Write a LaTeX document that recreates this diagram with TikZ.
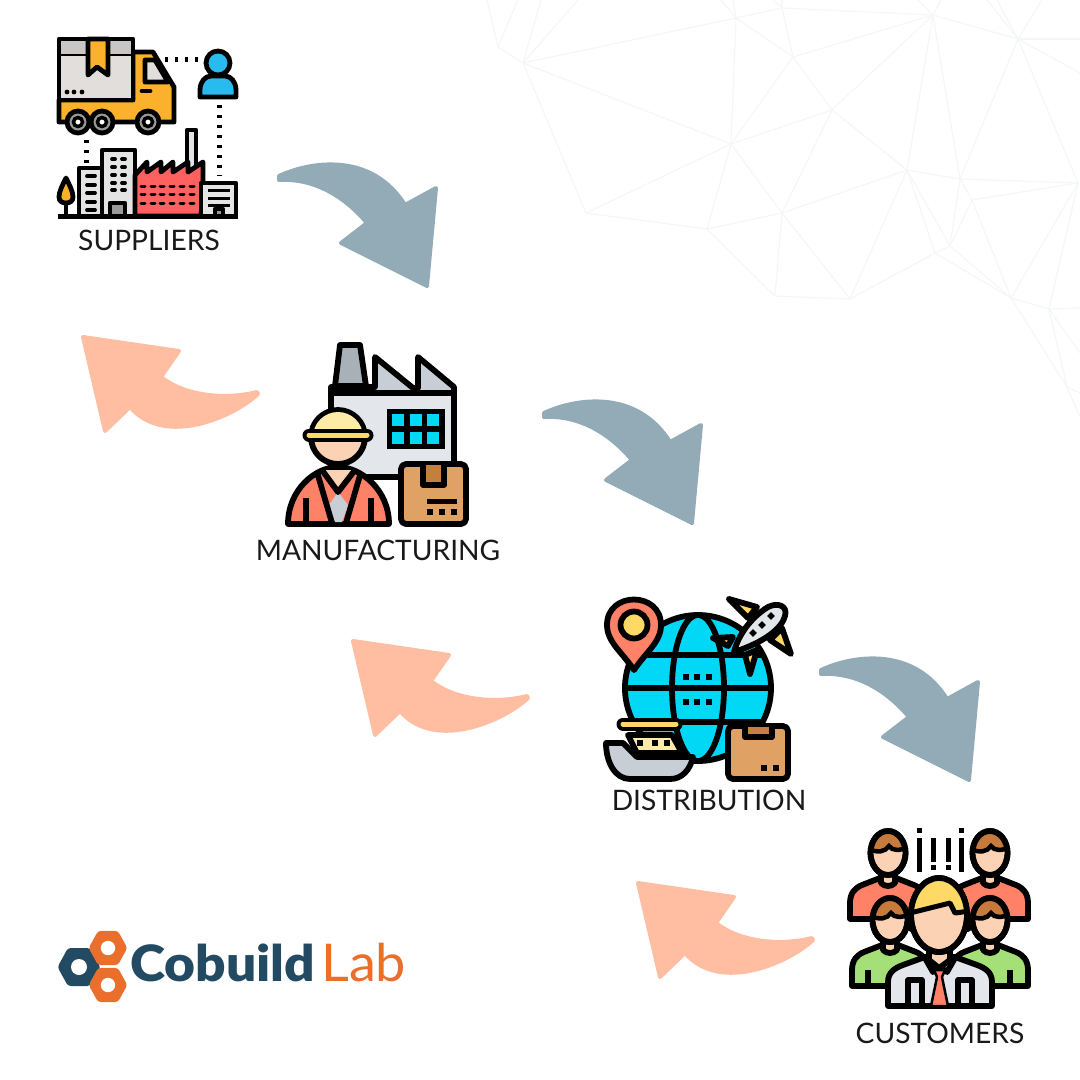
\documentclass[tikz,border=0pt]{standalone}
\usepackage{fontspec}
\setmainfont{Lato}
\newfontfamily\latoblack{Lato Black}
\usetikzlibrary{positioning}
\definecolor{meshgrey}{HTML}{F4F6F7}
\definecolor{arrowblue}{HTML}{93ABB6}
\definecolor{arroworange}{HTML}{FFBEA1}
\definecolor{logonavy}{HTML}{234A63}
\definecolor{logoorange}{HTML}{EA6F2D}
\definecolor{truckyellow}{HTML}{FBB12B}
\definecolor{boxgrey}{HTML}{E2DEDC}
\definecolor{bandgrey}{HTML}{C9C7C5}
\definecolor{wallgrey}{HTML}{E4E4E4}
\definecolor{wheelgrey}{HTML}{9C9A98}
\definecolor{skyblue}{HTML}{29BAF0}
\definecolor{plantred}{HTML}{FF6060}
\definecolor{steelgrey}{HTML}{C7CED6}
\definecolor{chimneygrey}{HTML}{A8B0B8}
\definecolor{paleblue}{HTML}{E3E7EC}
\definecolor{cyanfill}{HTML}{00D8F5}
\definecolor{salmon}{HTML}{FF8268}
\definecolor{skin}{HTML}{FCD2B4}
\definecolor{hatyellow}{HTML}{FFD966}
\definecolor{hatpale}{HTML}{FFEBA8}
\definecolor{cardboard}{HTML}{E0A165}
\definecolor{tapebrown}{HTML}{C47F3F}
\definecolor{hairbrown}{HTML}{C67A3C}
\definecolor{shirtgreen}{HTML}{A5DF77}
\tikzset{
  lab/.style={font=\fontsize{28.2}{28}\selectfont,text=black!90,inner sep=0pt},
  ink/.style={draw=black,line width=5.8pt,line join=round},
  finink/.style={draw=black,line width=4.8pt,line join=round},
  dots/.style={draw=black,line width=5pt,dash pattern=on 3pt off 7pt},
  blueflow/.pic={
    \path[fill=arrowblue,draw=arrowblue,line width=4pt,line join=round]
      (279,176) .. controls (311,161) and (372,152) .. (405,205) -- (436,188)
      -- (427,286) -- (341,243) -- (367,223)
      .. controls (345,197) and (315,178) .. (279,180) -- cycle;
  },
  orangeflow/.pic={
    \path[fill=arroworange,draw=arroworange,line width=4pt,line join=round]
      (83,337) -- (179,351) -- (161,377)
      .. controls (185,396) and (225,400) .. (257,392) -- (258,394)
      .. controls (235,416) and (165,448) .. (130,407) -- (105,431) -- cycle;
  },
  nut/.pic={
    \fill[pic actions,rounded corners=3pt] (-21.5,0) -- (-11,-19) -- (11,-19) -- (21.5,0) -- (11,19) -- (-11,19) -- cycle;
    \fill[white] (0,0) circle[radius=8];
  },
}
% one crowd member, head centre at #1,#2
\newcommand{\crowdguy}[3]{
  \begin{scope}[shift={(#1,#2)}]
    \draw[ink,fill=#3] (-38,66) -- (-38,50) .. controls (-38,40) and (-33,35) .. (-26,32) -- (-8,25) -- (8,25) -- (26,32) .. controls (33,35) and (38,40) .. (38,50) -- (38,66) -- cycle;
    \draw[ink,fill=skin] (-7,22) -- (-7,30) .. controls (-3,34) and (3,34) .. (7,30) -- (7,22);
    \draw[ink,fill=skin] (0,0) ellipse[x radius=17.5,y radius=22];
    \begin{scope}
      \clip (0,0) ellipse[x radius=17.5,y radius=22];
      \fill[hairbrown] (-20,-25) rectangle (20,-3);
      \fill[skin] (-20,-4) .. controls (-10,0) and (-3,-1) .. (1,-7) .. controls (4,-2) and (12,-2) .. (20,-6) -- (20,2) -- (-20,2) -- cycle;
      \draw[black,line width=4.5pt] (-20,-4) .. controls (-10,0) and (-3,-1) .. (1,-7) .. controls (4,-2) and (12,-2) .. (20,-6);
    \end{scope}
    \draw[ink] (0,0) ellipse[x radius=17.5,y radius=22];
  \end{scope}
}
\begin{document}
\begin{tikzpicture}[x=1pt,y=-1pt]
  \useasboundingbox (0,0) rectangle (1080,1080);
  % Background mesh
  \foreach \n/\p in {A/{498,47},B/{523,63},C/{736,18},D/{782,8},E/{933,15},F/{793,57},G/{832,110},H/{731,144},I/{586,213},J/{707,229},K/{782,213},L/{775,296},M/{850,299},N/{907,170},O/{960,179},P/{1018,39},Q/{1078,183},R/{972,200},S/{950,246},T/{935,253},U/{1011,298},V/{1049,309},W/{1067,387},
    a/{487,0},b/{518,0},c/{541,0},d/{578,0},e/{721,0},f/{733,0},g/{773,0},h/{782,0},i/{918,0},j/{941,0},k/{987,0},l/{997,0},m/{1042,0},o/{1080,39},p/{1080,73},q/{1080,308},r/{1080,353},s/{1080,393},t/{1080,417}}
    \coordinate (\n) at (\p);
  \foreach \u/\v in {A/B,B/C,C/D,D/E,D/F,C/F,C/H,F/H,F/E,F/G,E/G,H/G,E/N,E/P,E/O,N/G,H/K,H/J,H/I,B/H,B/I,I/J,J/K,G/K,N/K,K/L,K/M,J/L,L/M,M/N,M/T,T/N,N/S,N/O,O/S,O/R,R/S,S/T,O/Q,R/Q,O/P,P/Q,R/U,S/U,T/U,Q/U,Q/V,U/V,U/W,V/W,
    A/a,A/b,B/c,B/d,C/e,C/f,D/g,D/h,E/i,E/j,P/k,P/l,P/m,P/o,P/p,V/q,V/r,W/s,W/t}
    \draw[meshgrey,line width=1.2pt] (\u) -- (\v);

  % Arrows
  \pic {blueflow};
  \pic[shift={(265,237)}] {blueflow};
  \pic[shift={(542,494)}] {blueflow};
  \pic {orangeflow};
  \pic[shift={(270,304)}] {orangeflow};
  \pic[shift={(555,546)}] {orangeflow};

  % Suppliers
  \draw[dots] (165,59) -- (200,59);
  \draw[dots] (219,105) -- (219,176);
  \draw[dots] (86,140) -- (86,164);
  \draw[finink,fill=truckyellow] (133,52) -- (153,52) -- (174,87) -- (174,122) -- (59,122) -- (59,100) -- (133,100) -- cycle;
  \draw[finink,fill=boxgrey] (59,39) rectangle (133,100);
  \fill[bandgrey] (61,41) rectangle (131,54);
  \draw[black,line width=2.5pt] (59,55) -- (133,55);
  \draw[finink,fill=truckyellow] (88,39) -- (88,75) -- (97,67) -- (108,75) -- (108,39) -- cycle;
  \fill (67,92) circle[radius=2.4] (74,92) circle[radius=2.4] (82,92) circle[radius=2.4];
  \draw[finink,fill=boxgrey] (145,60) -- (155,60) -- (168,82) -- (145,82) -- cycle;
  \draw[finink,line cap=round] (142,91) -- (150,91);
  \foreach \w in {78,102,148} {
    \draw[finink,fill=wheelgrey] (\w,122) circle[radius=11];
    \draw[line width=3.5pt,fill=white] (\w,122) circle[radius=4.5];
  }
  \draw[finink,fill=skyblue] (218,63) circle[radius=12];
  \draw[finink,fill=skyblue] (200,97) -- (200,90) .. controls (200,82) and (205,76) .. (211,76) -- (225,76) .. controls (231,76) and (236,82) .. (236,90) -- (236,97) -- cycle;
  \draw[finink,fill=truckyellow] (66,178) .. controls (62,186) and (59,192) .. (59,197) .. controls (59,201) and (62,203) .. (66,203) .. controls (70,203) and (73,201) .. (73,197) .. controls (73,192) and (70,186) .. (66,178) -- cycle;
  \draw[finink] (66,203) -- (66,216);
  \draw[finink,fill=wallgrey] (79,168) rectangle (102,216);
  \foreach \y in {176,185,193,202,210} \draw[black,line width=3.8pt,line cap=round] (87,\y) -- (95,\y);
  \draw[finink,fill=wallgrey] (102,150) rectangle (135,216);
  \foreach \y in {159,167,175,183,190} {
    \draw[black,line width=3.8pt,line cap=round] (112,\y) -- (115,\y);
    \draw[black,line width=3.8pt,line cap=round] (122,\y) -- (125,\y);
  }
  \draw[finink,fill=wheelgrey] (110,203) rectangle (125,216);
  \draw[finink,fill=wallgrey] (187,130) rectangle (196,172);
  \draw[finink,fill=plantred] (135,175) -- (147,162) -- (147,172) -- (161,162) -- (161,172) -- (173,162) -- (173,172) -- (188,162) -- (188,172) -- (203,162) -- (203,183) -- (201,216) -- (135,216) -- cycle;
  \foreach \y in {186,194,203} \foreach \x in {143,153,162,172,182,192} \draw[black,line width=3pt,line cap=round] (\x-2,\y) -- (\x+2,\y);
  \draw[finink,fill=wallgrey] (201,183) rectangle (236,216);
  \foreach \y in {190,198,205} \draw[black,line width=3pt] (208,\y) -- (230,\y);
  \draw[finink,fill=wheelgrey] (215,209) rectangle (223,216);
  \draw[black,line width=5pt] (58,216) -- (238,216);
  \node[lab] (suppliers) at (149,240) {SUPPLIERS};

  % Manufacturing
  \draw[ink,fill=paleblue] (331,393) rectangle (454,477);
  \draw[ink,fill=steelgrey] (331,393) -- (331,387) -- (375,387) -- (375,357) -- (413,388) -- (418,388) -- (418,357) -- (454,387) -- (454,393) -- cycle;
  \draw[ink,fill=chimneygrey] (340,345) -- (360,345) -- (366,386) -- (335,386) -- cycle;
  \fill (387,409) rectangle (445,449);
  \foreach \x in {392,410,427} \foreach \y in {414,432} \fill[cyanfill] (\x,\y) rectangle ++(12,12);
  \draw[ink,fill=salmon] (288,524) .. controls (288,490) and (315,467) .. (338,467) .. controls (361,467) and (389,490) .. (389,524) -- cycle;
  \fill[skin] (322,470) -- (355,470) -- (338,490) -- cycle;
  \fill[steelgrey] (338,492) -- (329,505) -- (335,522) -- (342,522) -- (348,505) -- cycle;
  \draw[ink] (317,472) -- (332,523) (361,472) -- (346,523);
  \draw[ink] (322,470) -- (338,492) -- (355,470);
  \draw[ink] (306,498) -- (306,523) (371,498) -- (371,523);
  \draw[ink,fill=skin] (338,437) circle[radius=27];
  \begin{scope}
    \clip (338,437) circle[radius=25];
    \fill[hatpale] (305,405) rectangle (370,435);
  \end{scope}
  \draw[black,line width=13pt,line cap=round] (309,435) -- (367,435);
  \draw[hatyellow,line width=5pt,line cap=round] (309,435) -- (367,435);
  \draw[ink,fill=cardboard,rounded corners=5pt] (401,464) rectangle (466,524);
  \draw[ink,fill=tapebrown] (423,465) -- (423,485) -- (444,485) -- (444,465);
  \draw[black,line width=5pt] (427,501) -- (457,501);
  \foreach \x in {430,442,454} \fill (\x-3,509) rectangle ++(6,6);
  \node[lab] (manufacturing) at (378,550) {MANUFACTURING};

  % Distribution
  \draw[ink,fill=cyanfill] (698,688) circle[radius=73];
  \draw[ink] (698,688) ellipse[x radius=26,y radius=73];
  \draw[ink] (634,655) -- (762,655) (625,688) -- (771,688) (634,722) -- (762,722);
  \foreach \x in {686,697,709} \foreach \y in {677,702} \fill (\x-3,\y-3) rectangle ++(6,6);
  \draw[ink,fill=salmon] (634,670) .. controls (622,652) and (607,642) .. (607,625) .. controls (607,591) and (661,591) .. (661,625) .. controls (661,642) and (646,652) .. (634,670) -- cycle;
  \draw[ink,fill=hatyellow] (634,625) circle[radius=13.5];
  \draw[ink,fill=hatyellow] (713,638) -- (733,637) -- (728,646) -- cycle;
  \draw[ink,fill=hatyellow] (750,674) -- (745,655) -- (757,650) -- cycle;
  \draw[ink,fill=hatyellow] (729,599) -- (757,607) -- (748,618) -- cycle;
  \draw[ink,fill=hatyellow] (791,654) -- (782,628) -- (770,640) -- cycle;
  \draw[ink,fill=paleblue] (734,652) .. controls (738,636) and (750,618) .. (768,607) .. controls (778,602) and (788,606) .. (785,616) .. controls (782,628) and (765,642) .. (734,652) -- cycle;
  \foreach \x/\y in {753/633,762/625,771/616} \fill[rotate around={45:(\x,\y)}] (\x-2.7,\y-2.7) rectangle ++(5.4,5.4);
  \draw[ink,fill=cardboard,rounded corners=5pt] (728,726) rectangle (788,779);
  \draw[ink,fill=tapebrown] (745,727) -- (745,737) -- (772,737) -- (772,727);
  \foreach \x in {764,776} \fill (\x-3,765) rectangle ++(6,6);
  \draw[ink,fill=hatpale] (628,735) -- (672,735) -- (682,753) -- (637,753) -- cycle;
  \foreach \x in {640,655,667} \fill (\x-3,740) rectangle ++(6,6);
  \draw[ink,fill=steelgrey] (606,743) -- (623,743) -- (637,757) -- (693,757) .. controls (690,770) and (682,779) .. (670,779) -- (630,779) .. controls (615,779) and (606,762) .. (606,743) -- cycle;
  \draw[black,line width=13pt,line cap=round] (623,724) -- (676,724);
  \draw[hatyellow,line width=5pt,line cap=round] (623,724) -- (676,724);
  \node[lab] (distribution) at (709,800) {DISTRIBUTION};

  % Customers
  \foreach \x/\y in {919/838,919/828,961/838,961/828} \fill (\x-2.5,\y) rectangle ++(5,\ifnum\y=828 5\else 34\fi);
  \foreach \x in {933,948} {
    \fill (\x-2.5,838) rectangle ++(5,24);
    \fill (\x-2.5,865) rectangle ++(5,5);
  }
  \crowdguy{888}{853}{salmon}
  \crowdguy{990}{853}{salmon}
  \crowdguy{890}{920}{shirtgreen}
  \crowdguy{990}{920}{shirtgreen}
  \draw[ink] (868,970) -- (868,987) (1010,970) -- (1010,987);
  \draw[ink,fill=paleblue] (888,1006) -- (888,982) .. controls (888,972) and (895,968) .. (903,965) -- (925,957) -- (955,957) -- (977,965) .. controls (985,968) and (992,972) .. (992,982) -- (992,1006) -- cycle;
  \draw[ink,fill=skin] (929,945) -- (929,960) -- (939,968) -- (950,960) -- (950,945);
  \draw[ink] (925,958) -- (933,972) -- (940,967) -- (947,972) -- (955,958);
  \draw[line width=2.5pt,line join=round,fill=salmon] (934,970) -- (945,970) -- (942,977) -- (948,1006) -- (931,1006) -- (937,977) -- cycle;
  \draw[ink] (908,1005) -- (908,980) -- (922,980) -- (922,1005);
  \draw[ink] (958,1005) -- (958,980) -- (972,980) -- (972,1005);
  \draw[ink,fill=skin] (914,923) circle[radius=6.5] (965,923) circle[radius=6.5];
  \draw[ink,fill=skin] (939,915) ellipse[x radius=28,y radius=37];
  \begin{scope}
    \clip (939,915) ellipse[x radius=28,y radius=37];
    \fill[hatyellow] (910,875) rectangle (970,905);
    \fill[hatyellow] (910,905) -- (910,913) -- (950,903) -- (955,913) -- (970,911) -- (970,900) -- cycle;
    \draw[black,line width=5pt,line join=round] (910,913) -- (950,903) -- (955,913) -- (970,911);
  \end{scope}
  \draw[ink] (939,915) ellipse[x radius=28,y radius=37];
  \node[lab] (customers) at (940,1033) {CUSTOMERS};

  % Logo
  \pic[logonavy] at (79,967) {nut};
  \pic[logoorange,scale=0.9] at (108,948) {nut};
  \pic[logoorange,scale=0.9] at (108,985) {nut};
  \node[anchor=base west,inner sep=0pt,xscale=1.065,font=\fontsize{50}{50}\selectfont\latoblack,text=logonavy] (cobuild) at (130,981) {Cobuild};
  \node[anchor=base west,inner sep=0pt,xscale=1.04,font=\fontsize{52}{52}\selectfont,text=logoorange] (labtext) at (321,981) {Lab};
\end{tikzpicture}
\end{document}
